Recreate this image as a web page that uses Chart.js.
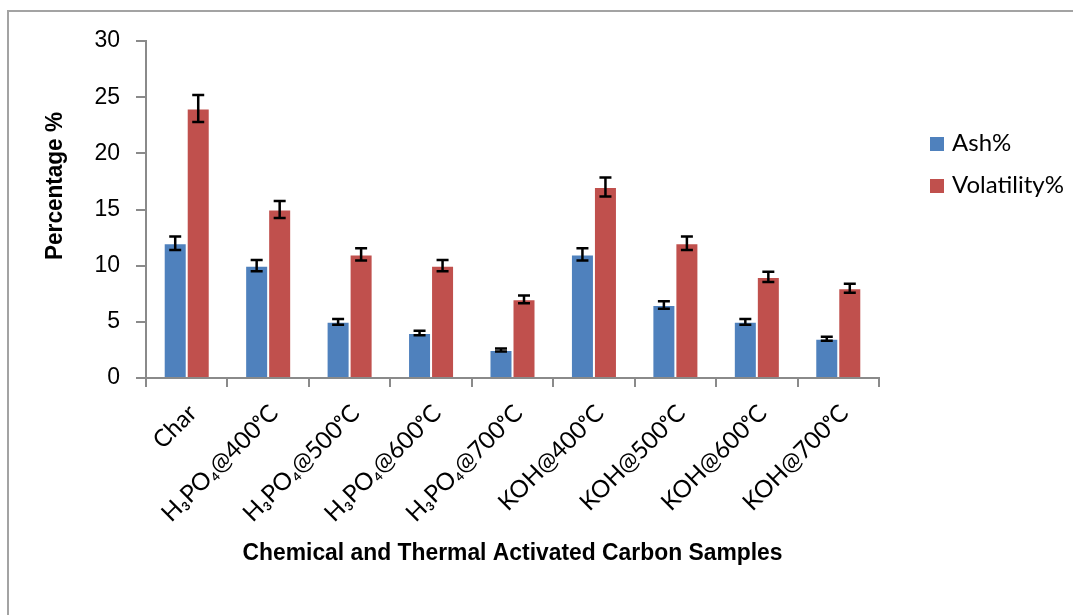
<!DOCTYPE html>
<html>
<head>
<meta charset="utf-8">
<script src="https://cdn.jsdelivr.net/npm/chart.js@4"></script>
<style>
  html, body { margin: 0; padding: 0; background: #fff; }
  #wrap { position: relative; width: 1073px; height: 615px; overflow: hidden; }
  #frame { position: absolute; left: 7px; top: 10px; right: -5px; bottom: -5px;
           border-left: 2px solid #a3a3a3; border-top: 2px solid #a3a3a3; }
  canvas { position: absolute; left: 0; top: 0; }
</style>
</head>
<body>
<div id="wrap">
  <div id="frame"></div>
  <canvas id="c" width="1073" height="615"></canvas>
</div>
<script>
// ---- data ----
const categories = ['Char', 'H₃PO₄@400ᵒC', 'H₃PO₄@500ᵒC', 'H₃PO₄@600ᵒC', 'H₃PO₄@700ᵒC',
                    'KOH@400ᵒC', 'KOH@500ᵒC', 'KOH@600ᵒC', 'KOH@700ᵒC'];
const seriesNames = ['Ash%', 'Volatility%'];
const ashValues = [12, 10, 5, 4, 2.5, 11, 6.5, 5, 3.5];
const volatilityValues = [24, 15, 11, 10, 7, 17, 12, 9, 8];
const ashErrors = [0.6, 0.5, 0.25, 0.2, 0.13, 0.55, 0.33, 0.25, 0.18];
const volatilityErrors = [1.2, 0.75, 0.55, 0.5, 0.35, 0.85, 0.6, 0.45, 0.4];
const yTickStep = 5;
const yMax = 30;
const xAxisTitle = 'Chemical and Thermal Activated Carbon Samples';
const yAxisTitle = 'Percentage %';

const colors = ['#4F81BD', '#C0504D'];
const axisColor = '#8a8a8a';

const errorBarPlugin = {
  id: 'errorBars',
  afterDatasetsDraw(chart) {
    const ctx = chart.ctx;
    const ys = chart.scales.y;
    chart.data.datasets.forEach((ds, i) => {
      const meta = chart.getDatasetMeta(i);
      meta.data.forEach((bar, j) => {
        const v = ds.data[j], e = ds.errors[j];
        const top = ys.getPixelForValue(v + e);
        const bot = ys.getPixelForValue(v - e);
        const x = bar.x;
        ctx.save();
        ctx.strokeStyle = '#000';
        ctx.lineWidth = 2.5;
        ctx.beginPath();
        ctx.moveTo(x, top); ctx.lineTo(x, bot);
        ctx.moveTo(x - 6, top); ctx.lineTo(x + 6, top);
        ctx.moveTo(x - 6, bot); ctx.lineTo(x + 6, bot);
        ctx.stroke();
        ctx.restore();
      });
    });
  }
};

const decorPlugin = {
  id: 'decor',
  afterDraw(chart) {
    const ctx = chart.ctx;
    const ca = chart.chartArea;
    ctx.save();
    // axis titles
    ctx.fillStyle = '#000';
    ctx.font = 'bold 23px "Liberation Sans", Arial, sans-serif';
    ctx.textBaseline = 'alphabetic';
    ctx.textAlign = 'center';
    let w = ctx.measureText(xAxisTitle).width;
    ctx.save();
    ctx.translate((ca.left + ca.right) / 2, 560);
    ctx.scale(540 / w, 1);
    ctx.fillText(xAxisTitle, 0, 0);
    ctx.restore();
    w = ctx.measureText(yAxisTitle).width;
    ctx.save();
    ctx.translate(62, 186);
    ctx.rotate(-Math.PI / 2);
    ctx.scale(148 / w, 1);
    ctx.fillText(yAxisTitle, 0, 0);
    ctx.restore();
    // legend
    ctx.textAlign = 'left';
    ctx.font = '24px Lato, "Liberation Sans", sans-serif';
    const ly = [137, 179];
    chart.data.datasets.forEach((ds, i) => {
      ctx.fillStyle = ds.backgroundColor;
      ctx.fillRect(930, ly[i], 14, 14);
      ctx.fillStyle = '#000';
      ctx.fillText(ds.label, 952, ly[i] + 14);
    });
    ctx.restore();
  }
};

new Chart(document.getElementById('c'), {
  type: 'bar',
  data: {
    labels: categories,
    datasets: [
      { label: seriesNames[0], data: ashValues, errors: ashErrors,
        backgroundColor: colors[0], borderColor: 'rgba(255,255,255,0.35)', borderWidth: 1 },
      { label: seriesNames[1], data: volatilityValues, errors: volatilityErrors,
        backgroundColor: colors[1], borderColor: 'rgba(255,255,255,0.35)', borderWidth: 1 }
    ]
  },
  options: {
    responsive: false,
    animation: false,
    devicePixelRatio: 1,
    layout: { padding: { left: 30, top: 41, right: 194, bottom: 0 } },
    datasets: { bar: { categoryPercentage: 0.565, barPercentage: 1 } },
    plugins: { legend: { display: false }, tooltip: { enabled: false } },
    scales: {
      x: {
        afterFit(s) { s.height = 237; },
        border: { display: true, color: axisColor, width: 2 },
        grid: { display: true, drawOnChartArea: false, drawTicks: true, tickLength: 9,
                color: axisColor, lineWidth: 2, offset: true },
        ticks: { autoSkip: false, minRotation: 45, maxRotation: 45, padding: 12, labelOffset: 6,
                 color: '#000', font: { family: 'Lato, "Liberation Sans", sans-serif', size: 24 } }
      },
      y: {
        min: 0, max: yMax,
        afterFit(s) { s.width = 116; },
        border: { display: true, color: axisColor, width: 2 },
        grid: { display: true, drawOnChartArea: false, drawTicks: true, tickLength: 10,
                color: axisColor, lineWidth: 2 },
        ticks: { stepSize: yTickStep, padding: 16, color: '#000',
                 font: { family: '"Liberation Sans", Arial, sans-serif', size: 23 } }
      }
    }
  },
  plugins: [errorBarPlugin, decorPlugin]
});
</script>
</body>
</html>
